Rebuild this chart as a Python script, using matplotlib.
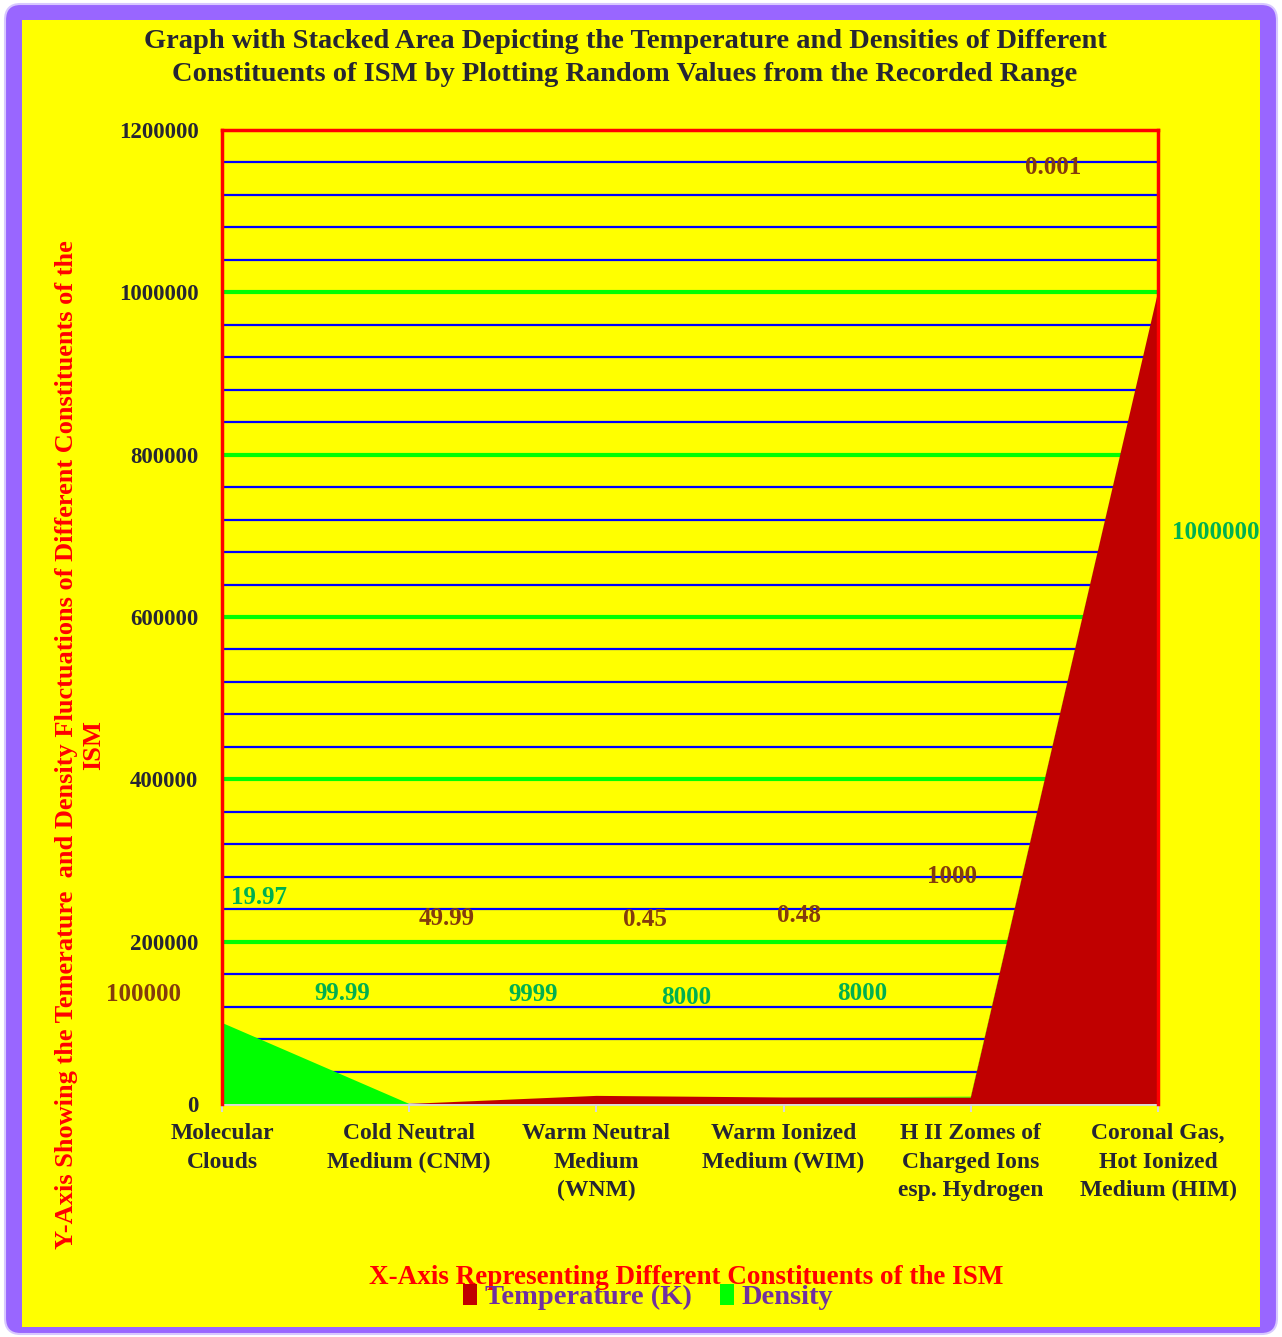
import matplotlib
matplotlib.use("Agg")
import matplotlib.pyplot as plt
from matplotlib.patches import Patch, FancyBboxPatch, Rectangle
import numpy as np

categories = ["Molecular\nClouds", "Cold Neutral\nMedium (CNM)", "Warm Neutral\nMedium\n(WNM)",
              "Warm Ionized\nMedium (WIM)", "H II Zomes of\nCharged Ions\nesp. Hydrogen",
              "Coronal Gas,\nHot Ionized\nMedium (HIM)"]
temperature = [19.97, 99.99, 9999, 8000, 8000, 1000000]
density = [100000, 49.99, 0.45, 0.48, 1000, 0.001]

# where Excel dropped the data labels (data coordinates)
temp_label_x = [0.20, 0.64, 1.66, 2.48, 3.42, 5.31]
temp_label_y = [255000, 136750, 134300, 131800, 136750, 704700]
dens_label_x = [-0.42, 1.20, 2.26, 3.08, 3.90, 4.44]
dens_label_y = [134300, 229150, 227900, 232850, 280900, 1154400]

serif = ["Liberation Serif", "DejaVu Serif"]
plt.rcParams["font.family"] = serif
plt.rcParams["font.weight"] = "bold"

fig = plt.figure(figsize=(12.82, 13.37), dpi=100)
fig.patch.set_facecolor("white")

# purple frame with yellow inside
W, H = 1282, 1337
frame = FancyBboxPatch((5 / W, 3 / H), 1272 / W, 1330 / H, boxstyle="round,pad=0,rounding_size=0.012",
                       transform=fig.transFigure, facecolor="#9966FF", edgecolor="#D8C8FF", lw=1.5, zorder=-10)
fig.patches.append(frame)
inner = Rectangle((22 / W, 1 - 1327 / H), (1260 - 22) / W, (1327 - 20) / H, transform=fig.transFigure,
                  facecolor="#FFFF00", edgecolor="none", zorder=-9)
fig.patches.append(inner)

ax = fig.add_axes([222 / W, 1 - 1104 / H, (1158 - 222) / W, (1104 - 130) / H])
ax.set_facecolor("#FFFF00")

x = np.arange(len(categories))
ax.stackplot(x, temperature, density, colors=["#C00000", "#00FF00"], zorder=3)

ax.set_xlim(0, 5)
ax.set_ylim(0, 1200000)

for v in np.arange(40000, 1200000, 40000):
    if v % 200000 == 0:
        ax.axhline(v, color="#00FF00", lw=3, zorder=1)
    else:
        ax.axhline(v, color="#0000FF", lw=1.6, zorder=1)

ax.set_yticks(np.arange(0, 1200001, 200000))
ax.set_yticklabels([str(int(v)) for v in np.arange(0, 1200001, 200000)])
ax.set_xticks(x)
ax.set_xticklabels(categories)
ax.tick_params(axis="y", length=0, pad=17, labelsize=16.5, labelcolor="#262633")
ax.tick_params(axis="x", length=6, color="#D9D9D9", width=1.5, pad=8, labelsize=17, labelcolor="#262633")
for lab in ax.get_xticklabels():
    lab.set_linespacing(1.45)

for side in ["left", "top", "right"]:
    ax.spines[side].set_color("#FF0000")
    ax.spines[side].set_linewidth(2.5)
    ax.spines[side].set_zorder(5)
ax.spines["bottom"].set_color("#D9D9D9")
ax.spines["bottom"].set_linewidth(2)

for lx, ly, v in zip(temp_label_x, temp_label_y, temperature):
    ax.text(lx, ly, f"{v:g}" if v < 1000 else str(int(v)), color="#00B050", fontsize=18,
            fontweight="bold", ha="center", va="center", clip_on=False, zorder=6)
for lx, ly, v in zip(dens_label_x, dens_label_y, density):
    ax.text(lx, ly, f"{v:g}" if v < 1000 else str(int(v)), color="#843C0C", fontsize=18,
            fontweight="bold", ha="center", va="center", clip_on=False, zorder=6)

fig.text(625 / W, 1 - 58 / H,
         "Graph with Stacked Area Depicting the Temperature and Densities of Different\n"
         "Constituents of ISM by Plotting Random Values from the Recorded Range",
         ha="center", va="center", fontsize=20.5, fontweight="bold", color="#262633", linespacing=1.4)

fig.text(80 / W, 1 - 745 / H,
         "Y-Axis Showing the Temerature  and Density Fluctuations of Different Constituents of the\nISM",
         rotation=90, ha="center", va="center", multialignment="center",
         fontsize=19, fontweight="bold", color="#FF0000", linespacing=1.2)

fig.text(686 / W, 1 - 1277 / H, "X-Axis Representing Different Constituents of the ISM",
         ha="center", va="center", fontsize=19.5, fontweight="bold", color="#FF0000")

handles = [Patch(facecolor="#C00000", label="Temperature (K)"),
           Patch(facecolor="#00FF00", label="Density")]
leg = fig.legend(handles=handles, loc="center", bbox_to_anchor=(648 / W, 1 - 1297 / H), ncol=2,
                 frameon=False, fontsize=20.5, handlelength=0.5, handleheight=0.8,
                 handletextpad=0.25, columnspacing=1.0)
for t in leg.get_texts():
    t.set_color("#7030A0")
    t.set_fontweight("bold")

fig.savefig("out.png", dpi=100, facecolor=fig.get_facecolor())
